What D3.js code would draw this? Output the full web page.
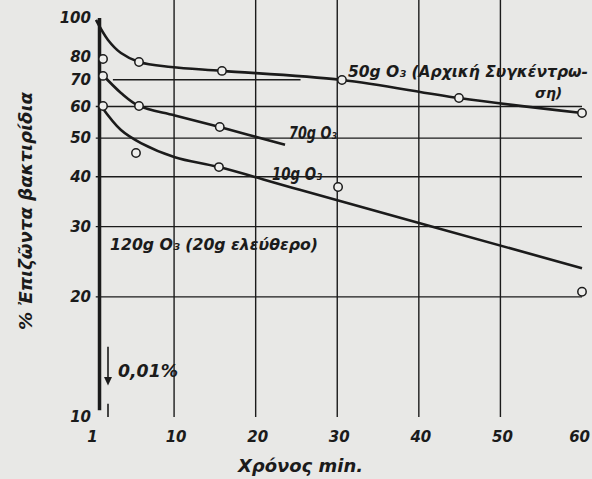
<!DOCTYPE html>
<html>
<head>
<meta charset="utf-8">
<script src="https://cdn.jsdelivr.net/npm/d3@7"></script>
<style>
    body { margin: 0; background: #e8e8e6; }
    text { font-family: "DejaVu Sans", sans-serif; font-weight: bold; font-style: italic; fill: #1b1b1b; }
</style>
</head>
<body>
<script>
/* global d3 */

var width = 592;
var height = 479;

// ticks and grid
var xTicks = [1, 10, 20, 30, 40, 50, 60];
var yTicks = [10, 20, 30, 40, 50, 60, 70, 80, 100];
var xGrid = [10, 20, 30, 40, 50];
var yGrid = [20, 30, 40, 50, 60];

// 50g O3 (initial concentration) - drawn curve and measured points
var curve50T = [0.43, 1.9, 3.49, 5.7, 9.62, 15.87, 30.58, 44.92, 60];
var curve50P = [98.9, 88.1, 81.7, 77.6, 75.4, 73.7, 69.9, 63.0, 57.8];
var points50T = [1.29, 5.7, 15.87, 30.58, 44.92, 60];
var points50P = [78.9, 77.6, 73.7, 69.9, 63.0, 57.8];

// 70g O3
var curve70T = [1.04, 3.49, 5.7, 10.1, 15.6, 23.6];
var curve70P = [72.8, 64.9, 60.2, 57.0, 53.3, 48.1];
var points70T = [1.29, 5.7, 15.6];
var points70P = [71.6, 60.2, 53.3];

// 10g O3
var curve100T = [1.04, 3.49, 5.94, 10.1, 15.5, 25.4, 60];
var curve100P = [60.2, 52.4, 48.6, 44.8, 42.3, 37.1, 23.6];
var points100T = [1.29, 5.33, 15.5, 30.1, 60];
var points100P = [60.2, 45.9, 42.3, 37.7, 20.6];

// 120g O3 (20g free) - falls straight down to 0.01%
var curve120T = [0.86, 0.86];
var curve120P = [100, 10.4];

var ink = "#1b1b1b";

var x = d3.scaleLinear().domain([0, 60]).range([92.5, 582]);
var y = d3.scaleLog().domain([10, 100]).range([417, 18]);

var svg = d3.select("body")
        .append("svg")
        .attr("width", width)
        .attr("height", height);

var left = x(0.4), right = x(60), top = y(100), bottom = y(10);

// grid
svg.append("g")
        .selectAll("line")
        .data(xGrid)
        .enter().append("line")
        .attr("x1", function (d) { return x(d); })
        .attr("x2", function (d) { return x(d); })
        .attr("y1", top)
        .attr("y2", bottom)
        .attr("stroke", ink)
        .attr("stroke-width", 1.4);

svg.append("g")
        .selectAll("line")
        .data(yGrid)
        .enter().append("line")
        .attr("x1", left)
        .attr("x2", right)
        .attr("y1", function (d) { return y(d); })
        .attr("y2", function (d) { return y(d); })
        .attr("stroke", ink)
        .attr("stroke-width", 1.4);

// the 70 line is only drawn part way
svg.append("line")
        .attr("x1", x(2.5)).attr("x2", x(25.5))
        .attr("y1", y(70)).attr("y2", y(70))
        .attr("stroke", ink)
        .attr("stroke-width", 1.4);

// frame
svg.append("rect")
        .attr("x", left)
        .attr("y", top)
        .attr("width", right - left)
        .attr("height", bottom - top)
        .attr("fill", "none")
        .attr("stroke", ink)
        .attr("stroke-width", 2.2);

// y axis labels
svg.append("g")
        .selectAll("text")
        .data(yTicks)
        .enter().append("text")
        .attr("x", 91)
        .attr("y", function (d) { return y(d) + 5; })
        .attr("text-anchor", "end")
        .attr("font-size", 15)
        .text(function (d) { return d; });

// x axis labels
svg.append("g")
        .selectAll("text")
        .data(xTicks)
        .enter().append("text")
        .attr("x", function (d) {
            if (d === 1)
                return x(0);
            return d === 60 ? 590 : x(d) + 2;
        })
        .attr("y", 442)
        .attr("text-anchor", function (d) { return d === 60 ? "end" : "middle"; })
        .attr("font-size", 15)
        .text(function (d) { return d; });

var line = d3.line()
        .curve(d3.curveCatmullRom)
        .x(function (d) { return x(d[0]); })
        .y(function (d) { return y(d[1]); });

function drawSeries(ts, ps, w) {
    svg.append("path")
            .datum(d3.zip(ts, ps))
            .attr("d", line)
            .attr("fill", "none")
            .attr("stroke", ink)
            .attr("stroke-width", w);
}

function drawPoints(ts, ps) {
    svg.append("g")
            .selectAll("circle")
            .data(d3.zip(ts, ps))
            .enter().append("circle")
            .attr("cx", function (d) { return x(d[0]); })
            .attr("cy", function (d) { return y(d[1]); })
            .attr("r", 4.2)
            .attr("fill", "#eeeeec")
            .attr("stroke", ink)
            .attr("stroke-width", 1.5);
}

drawSeries(curve50T, curve50P, 2.6);
drawSeries(curve70T, curve70P, 2.6);
drawSeries(curve100T, curve100P, 2.6);
drawSeries(curve120T, curve120P, 3.5);

drawPoints(points50T, points50P);
drawPoints(points70T, points70P);
drawPoints(points100T, points100P);

// 0.01% arrow
svg.append("line")
        .attr("x1", x(1.9)).attr("x2", x(1.9))
        .attr("y1", y(15)).attr("y2", y(12.6))
        .attr("stroke", ink)
        .attr("stroke-width", 1.6);
svg.append("path")
        .attr("d", "M" + (x(1.9) - 4) + "," + y(12.6) + "L" + (x(1.9) + 4) + "," + y(12.6) + "L" + x(1.9) + "," + y(12) + "Z")
        .attr("fill", ink);
svg.append("line")
        .attr("x1", x(1.9)).attr("x2", x(1.9))
        .attr("y1", y(10.8)).attr("y2", bottom)
        .attr("stroke", ink)
        .attr("stroke-width", 1.6);

// annotations
function note(tx, ty, s, size, len) {
    var t = svg.append("text")
            .attr("x", tx)
            .attr("y", ty)
            .attr("font-size", size)
            .text(s);
    if (len)
        t.attr("textLength", len).attr("lengthAdjust", "spacingAndGlyphs");
    return t;
}

note(348, 77, "50g O₃ (Αρχική Συγκέντρω-", 15, 240);
note(535, 98, "ση)", 14);
note(289, 139, "70g O₃", 17, 48);
note(272, 180, "10g O₃", 17, 50);
note(110, 250, "120g O₃ (20g ελεύθερο)", 16, 208);
note(118, 377, "0,01%", 18, 60);

// axis titles
note(238, 472, "Χρόνος min.", 17, 125);
svg.append("text")
        .attr("transform", "translate(32,330) rotate(-90)")
        .attr("font-size", 17)
        .attr("textLength", 238)
        .attr("lengthAdjust", "spacingAndGlyphs")
        .text("% Ἐπιζῶντα βακτιρίδια");
</script>
</body>
</html>
